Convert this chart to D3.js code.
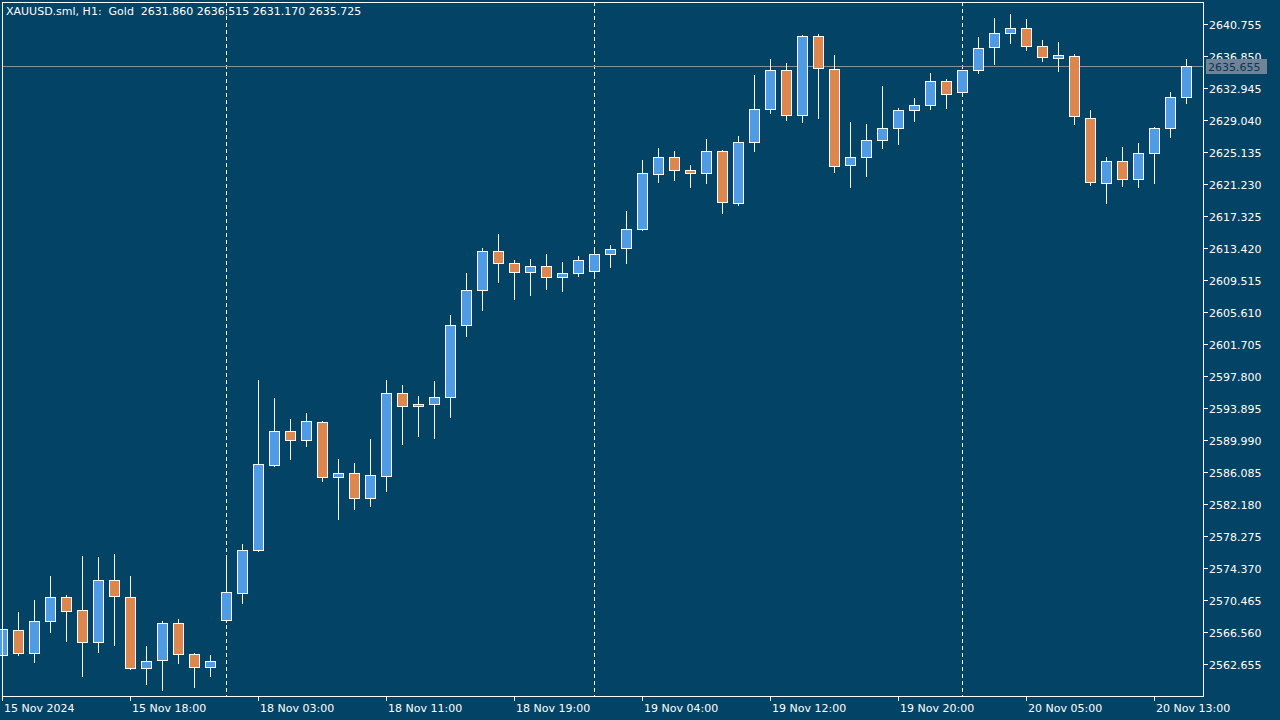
<!DOCTYPE html>
<html><head><meta charset="utf-8">
<script src="https://cdn.jsdelivr.net/npm/d3@7/dist/d3.min.js"></script>
<style>html,body{margin:0;padding:0;background:#034366;overflow:hidden}svg{display:block}</style>
</head><body>
<svg id="c" width="1280" height="720"></svg>
<script>
// ---- DATA ----
const times = [
 "15 Nov 10:00","15 Nov 11:00","15 Nov 12:00","15 Nov 13:00","15 Nov 14:00","15 Nov 15:00","15 Nov 16:00","15 Nov 17:00",
 "15 Nov 18:00","15 Nov 19:00","15 Nov 20:00","15 Nov 21:00","15 Nov 22:00","15 Nov 23:00",
 "18 Nov 01:00","18 Nov 02:00","18 Nov 03:00","18 Nov 04:00","18 Nov 05:00","18 Nov 06:00","18 Nov 07:00","18 Nov 08:00",
 "18 Nov 09:00","18 Nov 10:00","18 Nov 11:00","18 Nov 12:00","18 Nov 13:00","18 Nov 14:00","18 Nov 15:00","18 Nov 16:00",
 "18 Nov 17:00","18 Nov 18:00","18 Nov 19:00","18 Nov 20:00","18 Nov 21:00","18 Nov 22:00","18 Nov 23:00",
 "19 Nov 01:00","19 Nov 02:00","19 Nov 03:00","19 Nov 04:00","19 Nov 05:00","19 Nov 06:00","19 Nov 07:00","19 Nov 08:00",
 "19 Nov 09:00","19 Nov 10:00","19 Nov 11:00","19 Nov 12:00","19 Nov 13:00","19 Nov 14:00","19 Nov 15:00","19 Nov 16:00",
 "19 Nov 17:00","19 Nov 18:00","19 Nov 19:00","19 Nov 20:00","19 Nov 21:00","19 Nov 22:00","19 Nov 23:00",
 "20 Nov 01:00","20 Nov 02:00","20 Nov 03:00","20 Nov 04:00","20 Nov 05:00","20 Nov 06:00","20 Nov 07:00","20 Nov 08:00",
 "20 Nov 09:00","20 Nov 10:00","20 Nov 11:00","20 Nov 12:00","20 Nov 13:00","20 Nov 14:00","20 Nov 15:00"
];
const opens = [2563.75,2566.80,2564.00,2567.90,2570.83,2569.24,2565.34,2572.91,2570.83,2562.17,2563.14,2567.66,2563.88,2562.29,
 2568.03,2571.32,2576.57,2587.01,2591.09,2589.99,2592.19,2585.47,2585.96,2582.91,2585.67,2595.73,2594.14,2594.38,2595.24,2604.02,
 2608.30,2613.05,2611.59,2610.49,2611.22,2609.88,2610.37,
 2610.61,2612.69,2613.42,2615.74,2622.45,2624.52,2622.94,2622.57,2625.26,2618.99,2626.36,2630.38,2635.14,2629.65,2639.29,2635.26,
 2623.55,2624.52,2626.60,2628.06,2630.26,2630.87,2633.80,
 2632.46,2635.14,2637.95,2639.66,2640.27,2638.07,2636.61,2636.85,2629.28,2621.43,2624.11,2621.91,2625.09,2628.06,2631.86];
const highs = [2567.09,2569.04,2570.50,2573.43,2571.11,2575.87,2575.75,2576.12,2573.43,2564.89,2567.90,2568.15,2564.00,2563.75,
 2575.59,2577.34,2597.35,2595.15,2592.59,2593.32,2592.35,2587.71,2587.22,2590.15,2597.35,2596.74,2595.40,2597.23,2605.28,2610.37,
 2613.42,2615.17,2611.96,2612.08,2612.69,2611.71,2612.44,
 2613.42,2613.79,2617.94,2624.16,2625.62,2625.26,2623.55,2626.72,2625.38,2627.09,2634.53,2636.48,2635.99,2639.41,2639.53,2636.97,
 2628.80,2628.55,2633.19,2630.50,2631.72,2634.77,2634.04,
 2635.18,2639.17,2641.49,2641.98,2641.37,2638.80,2638.56,2637.09,2630.26,2624.52,2625.82,2626.23,2628.19,2632.46,2636.515];
const lows = [2563.55,2563.85,2562.97,2566.63,2565.53,2561.26,2564.19,2565.05,2562.05,2560.22,2559.49,2562.85,2559.85,2561.19,
 2567.78,2570.10,2576.50,2586.89,2587.75,2589.33,2585.06,2580.42,2581.64,2582.01,2583.84,2589.58,2590.55,2590.31,2592.87,2602.75,
 2605.93,2609.35,2607.27,2607.76,2608.42,2608.25,2610.00,
 2610.25,2611.10,2611.59,2615.70,2621.45,2621.70,2620.94,2621.43,2617.77,2618.74,2625.33,2629.97,2629.11,2628.87,2629.36,2622.77,
 2620.94,2622.28,2625.70,2626.19,2628.99,2630.46,2630.58,
 2632.04,2634.77,2635.87,2638.44,2637.58,2636.24,2635.02,2628.55,2621.18,2618.91,2621.06,2620.94,2621.43,2627.04,2631.17];
const closes = [2566.93,2564.00,2567.90,2570.83,2569.12,2565.34,2572.91,2570.95,2562.17,2563.02,2567.66,2563.88,2562.29,2563.02,
 2571.44,2576.57,2587.06,2591.09,2589.99,2592.31,2585.55,2585.96,2582.91,2585.72,2595.73,2594.14,2594.38,2595.24,2604.02,2608.30,
 2613.05,2611.59,2610.49,2611.22,2609.88,2610.37,2611.96,
 2612.69,2613.30,2615.74,2622.57,2624.52,2622.94,2622.57,2625.26,2619.11,2626.36,2630.38,2635.14,2629.65,2639.29,2635.39,2623.43,
 2624.52,2626.60,2628.06,2630.26,2630.87,2633.80,2632.21,2635.14,
 2637.83,2639.66,2640.27,2638.07,2636.73,2636.97,2629.53,2621.55,2624.11,2621.91,2625.09,2628.06,2631.85,2635.725];
const priceTicks = [2640.755,2636.850,2632.945,2629.040,2625.135,2621.230,2617.325,2613.420,2609.515,2605.610,2601.705,
 2597.800,2593.895,2589.990,2586.085,2582.180,2578.275,2574.370,2570.465,2566.560,2562.655];
const timeTicks = ["15 Nov 10:00","15 Nov 18:00","18 Nov 03:00","18 Nov 11:00","18 Nov 19:00","19 Nov 04:00","19 Nov 12:00","19 Nov 20:00","20 Nov 05:00","20 Nov 13:00"];
const timeTickLabels = ["15 Nov 2024","15 Nov 18:00","18 Nov 03:00","18 Nov 11:00","18 Nov 19:00","19 Nov 04:00","19 Nov 12:00","19 Nov 20:00","20 Nov 05:00","20 Nov 13:00"];
const daySeparators = ["18 Nov 01:00","19 Nov 01:00","20 Nov 01:00"];
const bidPrice = 2635.655;
const titleText = "XAUUSD.sml, H1:  Gold  2631.860 2636.515 2631.170 2635.725";

// ---- LAYOUT ----
const L = 2, R = 1203, T = 2, B = 696;
const bg = "#034366", bull = "#4f9be4", bear = "#dd864e", fg = "#ffffff";
const font = "DejaVu Sans, Tahoma, sans-serif";

const svg = d3.select("#c");
svg.append("rect").attr("width",1280).attr("height",720).attr("fill",bg);

const x = d3.scalePoint().domain(times).range([2, 1186]);
const y = d3.scaleLinear().domain([2562.655, 2640.755]).range([664.3, 24.3]);
const py = v => Math.round(y(v));

const data = times.map((t,i)=>({t, o:opens[i], h:highs[i], l:lows[i], c:closes[i]}));

// separators
svg.append("g").selectAll("line").data(daySeparators).join("line")
  .attr("x1", d=>x(d)+0.5).attr("x2", d=>x(d)+0.5).attr("y1", T).attr("y2", B)
  .attr("stroke", fg).attr("stroke-width",1).attr("stroke-dasharray","4,3");

// bid line
svg.append("line").attr("x1",L).attr("x2",R).attr("y1",py(bidPrice)+0.5).attr("y2",py(bidPrice)+0.5)
  .attr("stroke","#8a9099").attr("stroke-width",1);

// candles
const g = svg.append("g");
const cd = g.selectAll("g.c").data(data).join("g").attr("class","c");
cd.append("line")
  .attr("x1", d=>x(d.t)+0.5).attr("x2", d=>x(d.t)+0.5)
  .attr("y1", d=>py(d.h)).attr("y2", d=>py(d.l)+1)
  .attr("stroke", fg).attr("stroke-width",1);
cd.append("rect")
  .attr("x", d=>x(d.t)-5+0.5).attr("width",10)
  .attr("y", d=>py(Math.max(d.o,d.c))+0.5)
  .attr("height", d=>Math.max(1, py(Math.min(d.o,d.c)) - py(Math.max(d.o,d.c))))
  .attr("fill", d=> d.c>=d.o ? bull : bear)
  .attr("stroke", fg).attr("stroke-width",1);

// frame
svg.append("rect").attr("x",L+0.5).attr("y",T+0.5).attr("width",R-L).attr("height",B-T)
  .attr("fill","none").attr("stroke",fg).attr("stroke-width",1);

// price axis
const ya = svg.append("g");
ya.selectAll("line").data(priceTicks).join("line")
  .attr("x1",R).attr("x2",R+5).attr("y1",d=>py(d)+0.5).attr("y2",d=>py(d)+0.5)
  .attr("stroke",fg);
ya.selectAll("text").data(priceTicks).join("text")
  .attr("x",R+6).attr("y",d=>py(d)+4.5)
  .attr("fill",fg).attr("font-family",font).attr("font-size",11)
  .text(d=>d.toFixed(3));

// time axis
const xa = svg.append("g");
xa.selectAll("line").data(timeTicks).join("line")
  .attr("x1",d=>x(d)+0.5).attr("x2",d=>x(d)+0.5).attr("y1",B).attr("y2",B+5)
  .attr("stroke",fg);
xa.selectAll("text").data(timeTicks).join("text")
  .attr("x",d=>x(d)+2).attr("y",B+16)
  .attr("fill",fg).attr("font-family",font).attr("font-size",11)
  .text((d,i)=>timeTickLabels[i]);

// bid label
const by = py(bidPrice);
svg.append("rect").attr("x",1206).attr("y",by-7).attr("width",61).attr("height",15).attr("fill","#718396");
svg.append("text").attr("x",1208).attr("y",by+5)
  .attr("fill","#0a3556").attr("font-family",font).attr("font-size",11).text(bidPrice.toFixed(3));

// title
svg.append("text").attr("x",6).attr("y",15).attr("fill",fg)
  .attr("font-family",font).attr("font-size",11).style("white-space","pre").text(titleText);
</script>
</body></html>
